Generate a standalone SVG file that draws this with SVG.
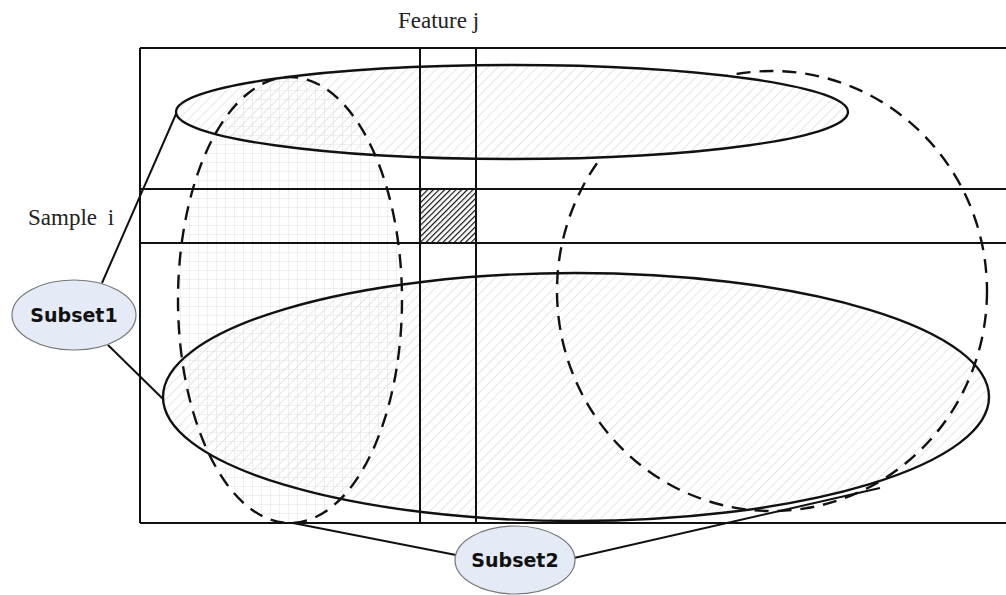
<svg xmlns="http://www.w3.org/2000/svg" width="1006" height="595" viewBox="0 0 1006 595">
<style>
.grid{stroke:#111;stroke-width:2;fill:none}
.solid{stroke:#111;stroke-width:2.4}
.dash{stroke:#111;stroke-width:2.4;stroke-dasharray:14 9}
.lbl{font-family:"Liberation Serif",serif;font-size:23px;fill:#222}
.tag{fill:#e4eaf6;stroke:#777;stroke-width:1.2}
.tagt{font-family:"DejaVu Sans",sans-serif;font-weight:bold;font-size:19px;fill:#111;text-anchor:middle}
.conn{stroke:#111;stroke-width:2;fill:none}
</style>
<defs>
<pattern id="hatch" width="7" height="7" patternUnits="userSpaceOnUse" patternTransform="rotate(45)">
<line x1="0" y1="0" x2="0" y2="7" stroke="#d8d8d8" stroke-width="1.3"/>
</pattern>
<pattern id="hatchw" width="7" height="7" patternUnits="userSpaceOnUse" patternTransform="rotate(45)">
<rect width="7" height="7" fill="#fff"/>
<line x1="0" y1="0" x2="0" y2="7" stroke="#d8d8d8" stroke-width="1.3"/>
</pattern>
<pattern id="gridp" width="9" height="9" patternUnits="userSpaceOnUse">
<path d="M0 0H9M0 0V9" stroke="#e2e2e2" stroke-width="1.2" fill="none"/>
</pattern>
<pattern id="dark" width="4" height="4" patternUnits="userSpaceOnUse" patternTransform="rotate(45)">
<rect width="4" height="4" fill="#fff"/>
<line x1="0" y1="0" x2="0" y2="4" stroke="#111" stroke-width="2.4"/>
</pattern>
</defs>
<rect width="1006" height="595" fill="#fff"/>

<g id="set-bottom">
<ellipse cx="576" cy="397" rx="413" ry="124" fill="url(#hatch)"/>
</g>
<g id="set-right">
<ellipse class="dash" cx="772" cy="291" rx="215" ry="220" fill="none"/>
</g>
<g id="set-top">
<ellipse cx="512" cy="112" rx="336" ry="47" fill="url(#hatchw)"/>
</g>
<g id="set-left-fill">
<ellipse cx="290" cy="300" rx="112" ry="223" fill="url(#gridp)"/>
</g>

<g id="matrix">
<rect x="420" y="189" width="56" height="54" fill="url(#dark)"/>
<path class="grid" d="M140 48H1006M140 523H1006M140 48V523M140 189H1006M140 243H1006M420 48V523M476 48V523"/>
</g>

<g id="set-left">
<ellipse class="dash" cx="290" cy="300" rx="112" ry="223" fill="none"/>
</g>
<g id="set-outlines">
<ellipse class="solid" cx="576" cy="397" rx="413" ry="124" fill="none"/>
<ellipse class="solid" cx="512" cy="112" rx="336" ry="47" fill="none"/>
</g>

<g id="labels">
<text class="lbl" x="398" y="28">Feature j</text>
<text class="lbl" x="28" y="225" word-spacing="5">Sample i</text>
</g>

<g id="connectors">
<path class="conn" d="M176 114L102 283"/>
<path class="conn" d="M108 345L163 399"/>
<path class="conn" d="M293 523L456 555"/>
<path class="conn" d="M574 558L880 488"/>
</g>

<g id="subset1">
<ellipse class="tag" cx="74" cy="315" rx="62" ry="35"/>
<text class="tagt" x="74" y="322">Subset1</text>
</g>
<g id="subset2">
<ellipse class="tag" cx="515" cy="560" rx="60" ry="34"/>
<text class="tagt" x="515" y="567">Subset2</text>
</g>
</svg>
